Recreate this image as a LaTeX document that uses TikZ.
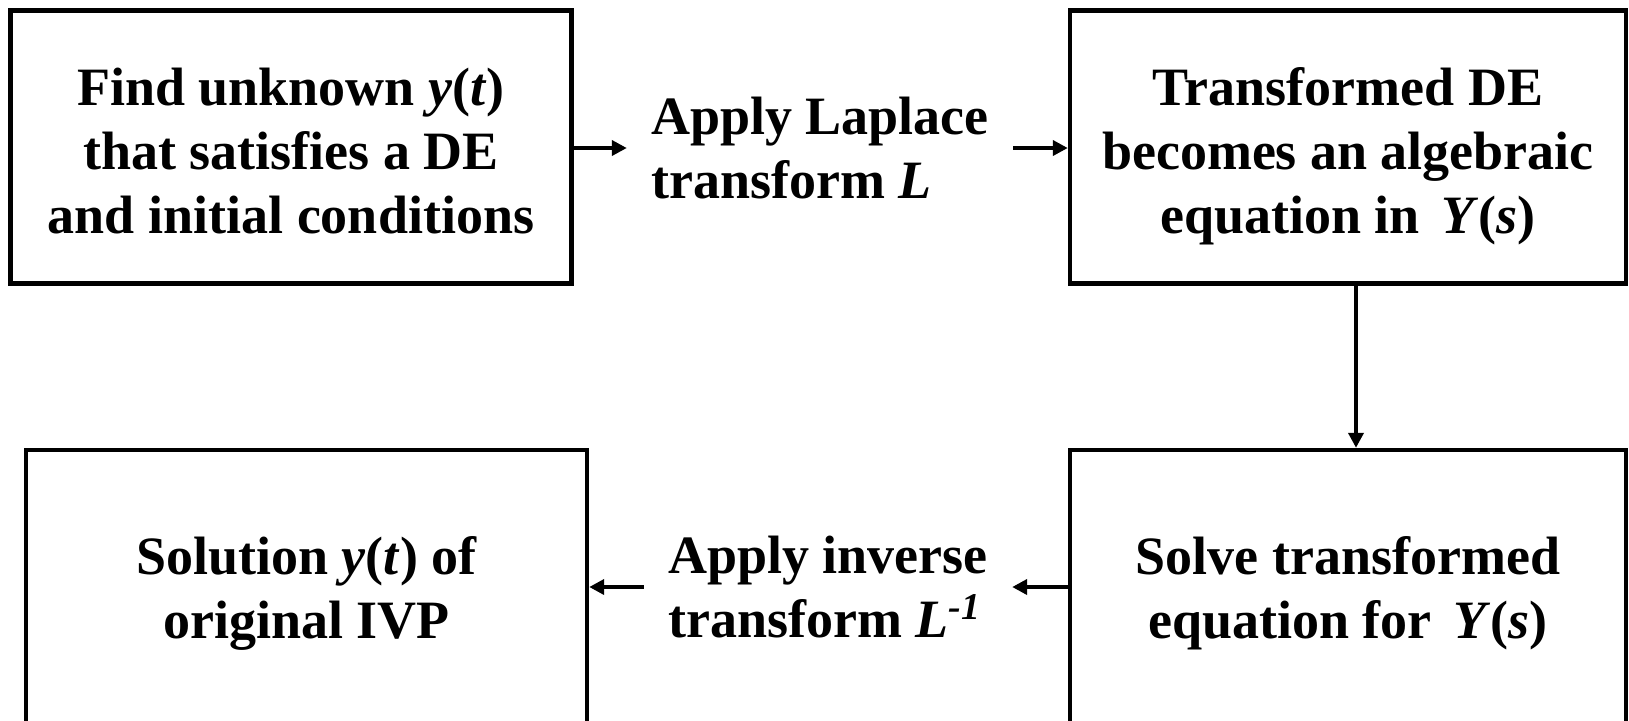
\documentclass[tikz,border=0pt]{standalone}
\usepackage{fontspec}
\setmainfont{Liberation Serif}
\usetikzlibrary{arrows.meta}
% struts that set the height of a box's first line and the depth of its last
\newcommand\firstline[1]{\rule{0pt}{#1}}
\newcommand\lastline{\rule[-7pt]{0pt}{0pt}}
\begin{document}
\begin{tikzpicture}[x=0.5pt,y=-0.5pt,
  stepbox/.style={draw,line width=2.2pt,align=center,inner sep=0pt,
    font=\fontsize{27}{32}\selectfont\bfseries},
  steplabel/.style={align=left,inner xsep=12pt,inner ysep=0pt,
    font=\fontsize{27}{32}\selectfont\bfseries},
  flow/.style={line width=2pt,-{Triangle[length=7.5pt,width=7.5pt]}}]
  \useasboundingbox (0,0) rectangle (1629,720);
  \clip (0,0) rectangle (1629,720);
  % the four stages of the method
  \node[stepbox,minimum width=280.5pt,minimum height=136.5pt] (find) at (291,147)
    {\firstline{29pt}Find unknown \textit{y}(\textit{t})\\that satisfies a DE\\and initial conditions\lastline};
  \node[stepbox,minimum width=278pt,minimum height=136.5pt] (trans) at (1348,147)
    {\firstline{29pt}Transformed DE\\becomes an algebraic\\equation in\hspace{0.15em} \textit{Y}(\textit{s})\lastline};
  \node[stepbox,minimum width=278pt,minimum height=139pt] (solve) at (1348,589)
    {\firstline{24pt}Solve transformed\\equation for\hspace{0.15em} \textit{Y}(\textit{s})\lastline};
  \node[stepbox,minimum width=280.5pt,minimum height=139pt] (sol) at (306.5,589)
    {\firstline{24pt}Solution \textit{y}(\textit{t}) of\\original IVP\lastline};
  % operations between the stages
  \node[steplabel] (lap) at (820,148)
    {Apply Laplace\\transform \textit{L}};
  \node[steplabel] (inv) at (828,587)
    {Apply inverse\\transform \textit{L}\textsuperscript{\textit{-1}}};
  % connectors
  \draw[flow] (find.east |- lap.west) -- (lap.west);
  \draw[flow] (lap.east) -- (trans.west |- lap.east);
  \draw[flow] ([xshift=4pt]trans.south) -- ([xshift=4pt]solve.north);
  \draw[flow] (solve.west |- inv.east) -- (inv.east);
  \draw[flow] (inv.west) -- (sol.east |- inv.west);
\end{tikzpicture}
\end{document}
